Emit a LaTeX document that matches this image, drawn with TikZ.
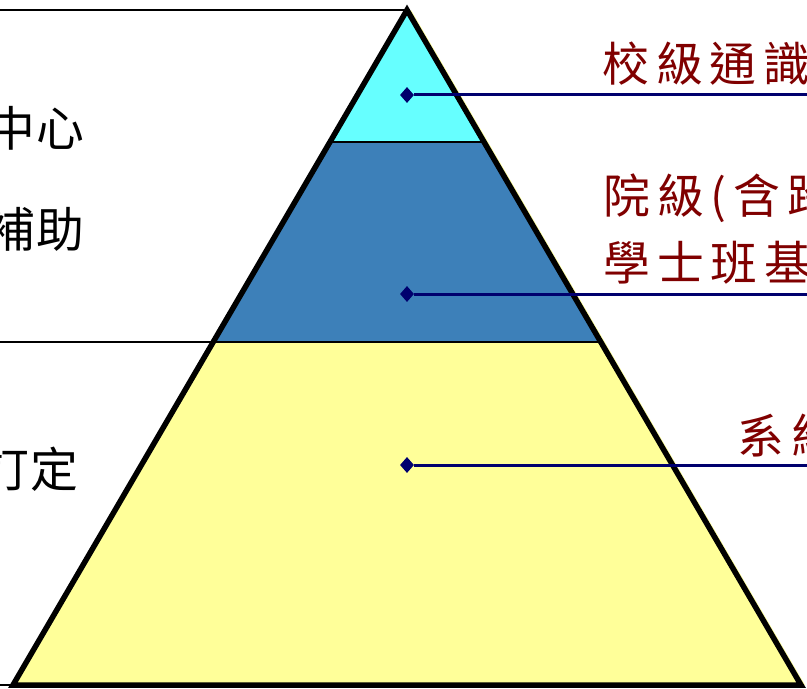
\documentclass[tikz,border=0pt]{standalone}
\usepackage{fontspec}
\usetikzlibrary{shapes.geometric,calc}
\newfontfamily\cjkleft[LetterSpace=4]{Noto Sans CJK TC}
\newfontfamily\cjkright[LetterSpace=15]{Noto Sans CJK TC}
\definecolor{topcyan}{RGB}{102,255,255}
\definecolor{midblue}{RGB}{61,128,185}
\definecolor{baseyellow}{RGB}{255,255,153}
\definecolor{navyline}{RGB}{0,0,110}
\definecolor{labelred}{RGB}{128,0,0}
\begin{document}
\begin{tikzpicture}[x=1bp,y=-1bp,
  leftlabel/.style={font=\cjkleft\fontsize{48}{48}\selectfont, text=black, inner sep=0, anchor=east},
  rightlabel/.style={font=\cjkright\fontsize{47}{47}\selectfont, text=labelred, inner sep=0, anchor=west},
  marker/.style={diamond, fill=navyline, inner sep=0, minimum width=14bp, minimum height=16bp},
  leader/.style={navyline, line width=3bp},
  divider/.style={draw=black, line width=2bp},
  frameline/.style={black, line width=1.6bp},
  outline/.style={draw=black, line width=5.5bp, line join=miter}]
\useasboundingbox (0,0) rectangle (807,689);
\clip (0,0) rectangle (807,689);
\fill[white] (0,0) rectangle (807,689);
% pyramid corners
\coordinate (A) at (407,10);
\coordinate (L) at (13,685);
\coordinate (R) at (801,685);
\coordinate (c1l) at ($(A)!0.19556!(L)$);
\coordinate (c1r) at ($(A)!0.19556!(R)$);
\coordinate (c2l) at ($(A)!0.49185!(L)$);
\coordinate (c2r) at ($(A)!0.49185!(R)$);
% left frame lines
\draw[frameline] (0,10) -- (A);
\draw[frameline] (0,342) -- (c2l);
\draw[frameline] (0,685) -- (L);
% left labels
\node[leftlabel] (t1) at (85,128) {中心};
\node[leftlabel] (t2) at (85,229) {補助};
\node[leftlabel] (t3) at (79,469) {訂定};
% shadow
\fill[baseyellow] ($(A)+(4,0)$) -- ($(L)+(4,0)$) -- ($(R)+(4,0)$) -- cycle;
% bands
\fill[topcyan] (A) -- (c1l) -- (c1r) -- cycle;
\fill[midblue] (c1l) -- (c2l) -- (c2r) -- (c1r) -- cycle;
\fill[baseyellow] (c2l) -- (L) -- (R) -- (c2r) -- cycle;
\draw[divider] (c1l) -- (c1r);
\draw[divider] (c2l) -- (c2r);
\draw[outline] (A) -- (L) -- (R) -- cycle;
% markers and leaders
\node[marker] (m1) at (407,95) {};
\node[marker] (m2) at (407,294) {};
\node[marker] (m3) at (407,465) {};
\coordinate (e1) at (815,95);
\coordinate (e2) at (815,294);
\coordinate (e3) at (815,465);
\draw[leader] (m1) -- (e1);
\draw[leader] (m2) -- (e2);
\draw[leader] (m3) -- (e3);
% right labels
\node[rightlabel] (r1) at (602,64) {校級通識};
\node[rightlabel] (r2) at (603,198) {院級(含跨};
\node[rightlabel] (r3) at (603,263) {學士班基};
\node[rightlabel] (r4) at (737,436) {系級};
\end{tikzpicture}
\end{document}
